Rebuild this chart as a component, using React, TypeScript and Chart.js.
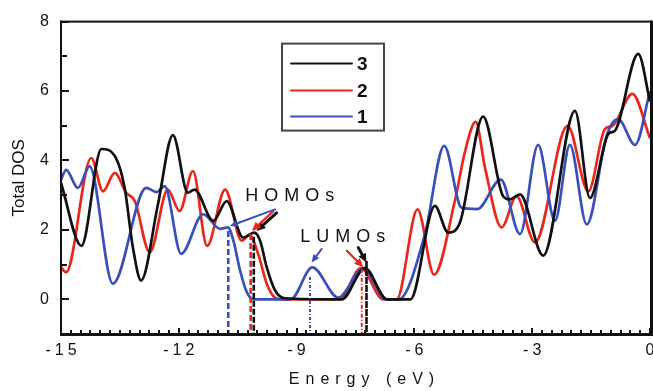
import React, { useEffect, useRef } from 'react';
import { Chart, registerables } from 'chart.js';
Chart.register(...registerables);

const FONT = "'Liberation Sans', Arial, Helvetica, sans-serif";

// Axis ticks
const xTickValues = [-15, -12, -9, -6, -3, 0];
const yTickValues = [0, 2, 4, 6, 8];
const xMinorStep = 0.25;
const yMinorStep = 1;

// Series "3" (black)
const s3Energy = [-15, -14.48, -13.97, -13.6, -13.38, -13.17, -12.96, -12.53, -12.15, -11.77, -11.6, -11.12, -10.78, -10.36, -10.08, -9.93, -9.76, -9.55, -9.3, -7.85, -7.26, -6.7, -6.1, -5.48, -5.14, -4.84, -4.25, -3.74, -3.57, -3.31, -2.72, -1.91, -1.53, -1.05, -0.9, -0.3, 0];
const s3Dos = [3.35, 1.54, 4.33, 4.07, 3.21, 1.5, 0.54, 2.74, 4.73, 3.07, 3.16, 2.26, 2.83, 1.78, 1.92, 1.69, 0.92, 0.26, 0.03, 0, 0.9, 0, 0, 2.69, 1.92, 2.21, 5.26, 2.97, 2.88, 3.02, 1.26, 5.43, 2.92, 4.78, 4.85, 7.07, 5.7];

// Series "2" (red)
const s2Energy = [-15, -14.87, -14.23, -13.93, -13.63, -13.34, -13.12, -12.74, -12.28, -11.98, -11.64, -11.28, -10.82, -10.4, -10.2, -9.98, -9.76, -9.55, -9.35, -7.9, -7.36, -6.8, -6.45, -5.92, -5.5, -4.97, -4.71, -4.44, -4.2, -3.78, -3.4, -2.93, -2.1, -1.57, -1.15, -0.95, -0.45, 0];
const s2Dos = [0.92, 0.78, 4.07, 3.11, 3.64, 3.07, 2.83, 1.35, 3.16, 2.54, 3.69, 1.54, 3.16, 1.69, 1.85, 1.31, 0.45, 0.05, 0, 0, 0.9, 0, 0, 2.59, 0.71, 2.83, 4.26, 5.11, 3.78, 2.07, 2.97, 1.64, 5.0, 3.11, 4.9, 5.0, 5.92, 4.64];

// Series "1" (blue)
const s1Energy = [-15, -14.87, -14.57, -14.27, -13.68, -12.83, -12.57, -12.36, -11.94, -11.38, -10.95, -10.75, -10.61, -10.44, -10.27, -10.1, -9.15, -8.6, -7.94, -7.3, -6.72, -6.4, -5.73, -5.24, -4.8, -4.4, -3.8, -3.31, -2.85, -2.42, -2.04, -1.61, -1.1, -0.81, -0.38, 0];
const s1Dos = [3.45, 3.73, 3.21, 3.83, 0.45, 3.21, 3.09, 3.26, 1.31, 2.45, 2.03, 2.07, 1.69, 0.83, 0.21, 0, 0, 0.92, 0.05, 0.9, 0, 0, 1.88, 4.42, 2.64, 2.6, 3.45, 1.88, 4.45, 2.26, 4.45, 2.16, 4.73, 5.19, 4.45, 6.0];

const seriesLabels = ['3', '2', '1'];
const seriesColors = ['#111111', '#e8281c', '#3a4fbb'];

// HOMO / LUMO marker lines (energy, top DOS), order: 3, 2, 1
const homoEnergy = [-10.09, -10.17, -10.74];
const homoTop = [1.8, 1.88, 1.97];
const lumoEnergy = [-7.22, -7.34, -8.66];
const lumoTop = [1.1, 0.88, 0.64];

// Arrows (tail x, tail y, tip x, tip y), order: 3, 2, 1
const homoArrows = [
  [-9.51, 2.49, -10.02, 1.97],
  [-9.59, 2.54, -10.14, 1.97],
  [-9.55, 2.59, -10.7, 2.11],
];
const lumoArrows = [
  [-7.43, 1.49, -7.22, 1.06],
  [-7.72, 1.4, -7.3, 0.92],
  [-8.36, 1.45, -8.62, 1.06],
];
const homoText = { text: 'HOMOs', x: -10.31, y: 2.83 };
const lumoText = { text: 'LUMOs', x: -8.91, y: 1.64 };

const toPts = (xs: number[], ys: number[]) => xs.map((x, i) => ({ x, y: ys[i] }));

function drawArrow(ctx: CanvasRenderingContext2D, x1: number, y1: number, x2: number, y2: number, color: string, width: number, head: number) {
  const a = Math.atan2(y2 - y1, x2 - x1);
  const bx = x2 - head * Math.cos(a);
  const by = y2 - head * Math.sin(a);
  ctx.strokeStyle = color;
  ctx.fillStyle = color;
  ctx.lineWidth = width;
  ctx.lineCap = 'round';
  ctx.beginPath();
  ctx.moveTo(x1, y1);
  ctx.lineTo(bx, by);
  ctx.stroke();
  const hw = head * 0.45;
  ctx.beginPath();
  ctx.moveTo(x2, y2);
  ctx.lineTo(bx + hw * Math.sin(a), by - hw * Math.cos(a));
  ctx.lineTo(bx - hw * Math.sin(a), by + hw * Math.cos(a));
  ctx.closePath();
  ctx.fill();
}

const decorPlugin = {
  id: 'decor',
  beforeDraw(chart: any) {
    const ctx = chart.ctx;
    ctx.save();
    ctx.fillStyle = '#ffffff';
    ctx.fillRect(0, 0, chart.width, chart.height);
    ctx.restore();
    const sx: any = chart.scales.x;
    if (!sx.__patched) {
      sx.__patched = true;
      const dl = sx.drawLabels.bind(sx);
      sx.drawLabels = (area: any) => {
        ctx.save();
        (ctx as any).letterSpacing = '4px';
        ctx.translate(2, 0);
        dl(area);
        ctx.restore();
      };
      const dt = sx.drawTitle.bind(sx);
      sx.drawTitle = () => {
        ctx.save();
        (ctx as any).letterSpacing = '6px';
        ctx.translate(9, 0);
        dt();
        ctx.restore();
      };
    }
  },
  afterDraw(chart: any) {
    const ctx: CanvasRenderingContext2D = chart.ctx;
    const { left, right, top, bottom } = chart.chartArea;
    const xs = chart.scales.x;
    const ys = chart.scales.y;
    const P = (x: number, y: number) => [xs.getPixelForValue(x), ys.getPixelForValue(y)];
    ctx.save();
    ctx.fillStyle = '#111';
    // minor + major ticks on x
    for (let v = xs.min; v <= xs.max + 1e-9; v += xMinorStep) {
      const px = xs.getPixelForValue(v);
      const major = xTickValues.some((t) => Math.abs(t - v) < 1e-6);
      const len = major ? 6 : 4;
      ctx.fillRect(Math.round(px) - 1, bottom - len, 2, len);
    }
    for (let v = ys.min; v <= ys.max + 1e-9; v += yMinorStep) {
      const py = ys.getPixelForValue(v);
      const major = yTickValues.some((t) => Math.abs(t - v) < 1e-6);
      const len = major ? 8 : 6;
      ctx.fillRect(left, Math.round(py) - 1, len, 2);
    }
    // frame
    ctx.fillRect(left - 1, top - 1, right - left + 3, 2);
    ctx.fillRect(left - 1, bottom - 1, right - left + 3, 3);
    ctx.fillRect(left - 1, top - 1, 2, bottom - top + 3);
    ctx.fillRect(right, top - 1, 3, bottom - top + 3);

    // arrows
    const widths = [3, 2.2, 2];
    const heads = [9, 9, 8];
    homoArrows.forEach((a, i) => {
      const [x1, y1] = P(a[0], a[1]);
      const [x2, y2] = P(a[2], a[3]);
      drawArrow(ctx, x1, y1, x2, y2, seriesColors[i], widths[i], heads[i]);
    });
    lumoArrows.forEach((a, i) => {
      const [x1, y1] = P(a[0], a[1]);
      const [x2, y2] = P(a[2], a[3]);
      drawArrow(ctx, x1, y1, x2, y2, seriesColors[i], widths[i], heads[i]);
    });

    // annotation text
    ctx.fillStyle = '#111';
    ctx.font = `18px ${FONT}`;
    (ctx as any).letterSpacing = '6px';
    ctx.textAlign = 'left';
    ctx.textBaseline = 'alphabetic';
    [homoText, lumoText].forEach((t) => {
      const [x, y] = P(t.x, t.y);
      ctx.fillText(t.text, x, y);
    });
    (ctx as any).letterSpacing = '0px';

    // legend box
    const bx = left + 221;
    const by = top + 22;
    const bw = 102;
    const bh = 87;
    ctx.strokeStyle = '#444';
    ctx.lineWidth = 2;
    ctx.strokeRect(bx, by, bw, bh);
    ctx.font = `bold 19px ${FONT}`;
    ctx.textBaseline = 'middle';
    const rowY = [by + 20, by + 47, by + 73];
    seriesLabels.forEach((lab, i) => {
      ctx.strokeStyle = seriesColors[i];
      ctx.lineWidth = 2;
      ctx.beginPath();
      ctx.moveTo(bx + 9, rowY[i]);
      ctx.lineTo(bx + 70, rowY[i]);
      ctx.stroke();
      ctx.fillStyle = '#111';
      ctx.fillText(lab, bx + 75, rowY[i] + 1);
    });
    ctx.restore();
  },
};

export default function App() {
  const ref = useRef<HTMLCanvasElement>(null);
  useEffect(() => {
    const main = [
      { e: s3Energy, d: s3Dos, order: 0 },
      { e: s2Energy, d: s2Dos, order: 2 },
      { e: s1Energy, d: s1Dos, order: 1 },
    ].map((s, i) => ({
      label: seriesLabels[i],
      data: toPts(s.e, s.d),
      borderColor: seriesColors[i],
      borderWidth: 2.7,
      pointRadius: 0,
      fill: false,
      cubicInterpolationMode: 'monotone' as const,
      order: s.order,
    }));
    const homoDash = [[6, 2], [6, 3], [6, 3]];
    const lumoDash = [[7, 1], [4, 2, 1, 2], [3, 2, 1, 2]];
    const markers: any[] = [];
    homoEnergy.forEach((e, i) => {
      markers.push({
        label: 'HOMO ' + seriesLabels[i],
        data: [{ x: e, y: homoTop[i] }, { x: e, y: -1 }],
        borderColor: seriesColors[i],
        borderWidth: 2.6,
        borderDash: homoDash[i],
        pointRadius: 0,
        order: -1,
      });
    });
    lumoEnergy.forEach((e, i) => {
      markers.push({
        label: 'LUMO ' + seriesLabels[i],
        data: [{ x: e, y: lumoTop[i] }, { x: e, y: -1 }],
        borderColor: seriesColors[i],
        borderWidth: i === 0 ? 2.6 : 2,
        borderDash: lumoDash[i],
        pointRadius: 0,
        order: -1,
      });
    });
    const chart = new Chart(ref.current!, {
      type: 'line',
      data: { datasets: [...main, ...markers] },
      options: {
        animation: false,
        responsive: false,
        devicePixelRatio: 1,
        layout: { padding: { top: 19, right: 3, left: 0, bottom: 0 } },
        plugins: { legend: { display: false }, tooltip: { enabled: false } },
        scales: {
          x: {
            type: 'linear',
            min: -15,
            max: 0,
            afterBuildTicks: (s: any) => { s.ticks = xTickValues.map((v) => ({ value: v })); },
            afterFit: (s: any) => { s.height = 57; s.paddingLeft = 0; s.paddingRight = 0; },
            grid: { display: false, drawTicks: false },
            border: { display: false },
            ticks: { color: '#111', padding: 7, font: { family: FONT, size: 16 }, maxRotation: 0, autoSkip: false },
            title: { display: true, text: 'Energy (eV)', color: '#111', font: { family: FONT, size: 16 }, padding: { top: 0, bottom: 2 } },
          },
          y: {
            type: 'linear',
            min: -1,
            max: 8,
            afterBuildTicks: (s: any) => { s.ticks = yTickValues.map((v) => ({ value: v })); },
            afterFit: (s: any) => { s.width = 61; },
            grid: { display: false, drawTicks: false },
            border: { display: false },
            ticks: { color: '#111', padding: 12, font: { family: FONT, size: 16 } },
            title: { display: true, text: 'Total DOS', color: '#111', font: { family: FONT, size: 17 }, padding: { top: 9, bottom: 0 } },
          },
        },
      },
      plugins: [decorPlugin],
    });
    return () => chart.destroy();
  }, []);
  return (
    <div style={{ position: 'absolute', left: 0, top: 0, width: 653, height: 391, background: '#fff' }}>
      <canvas ref={ref} width={653} height={391} style={{ display: 'block', width: 653, height: 391 }} />
    </div>
  );
}
